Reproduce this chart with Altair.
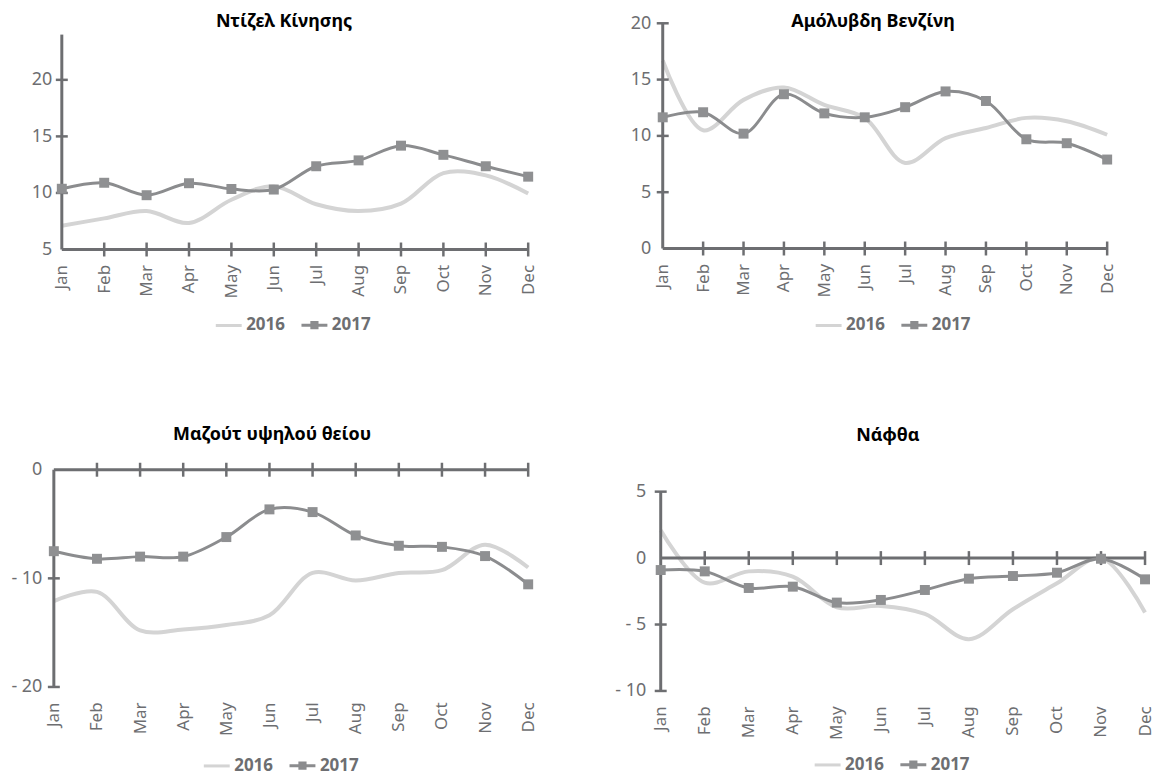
import json
import altair as alt
import pandas as pd

months = ["Jan", "Feb", "Mar", "Apr", "May", "Jun", "Jul", "Aug", "Sep", "Oct", "Nov", "Dec"]
years = ["2016", "2017"]
titles = ["Ντίζελ Κίνησης", "Αμόλυβδη Βενζίνη", "Μαζούτ υψηλού θείου", "Νάφθα"]

diesel_2016 = [7.1, 7.75, 8.4, 7.35, 9.4, 10.6, 9.0, 8.4, 9.05, 11.75, 11.55, 9.95]
diesel_2017 = [10.37, 10.9, 9.8, 10.86, 10.35, 10.3, 12.36, 12.88, 14.18, 13.37, 12.36, 11.44]
unleaded_2016 = [16.7, 10.5, 13.2, 14.3, 12.75, 11.6, 7.6, 9.8, 10.7, 11.6, 11.3, 10.1]
unleaded_2017 = [11.65, 12.1, 10.2, 13.7, 12.0, 11.65, 12.55, 13.95, 13.1, 9.7, 9.35, 7.9]
fueloil_2016 = [-12.1, -11.25, -14.8, -14.7, -14.3, -13.4, -9.5, -10.2, -9.5, -9.25, -6.9, -9.0]
fueloil_2017 = [-7.5, -8.2, -8.0, -8.0, -6.2, -3.65, -3.9, -6.05, -7.0, -7.1, -7.95, -10.55]
naphtha_2016 = [2.1, -1.85, -1.0, -1.4, -3.7, -3.6, -4.2, -6.1, -3.85, -1.9, 0.0, -4.1]
naphtha_2017 = [-0.9, -1.0, -2.25, -2.15, -3.35, -3.15, -2.4, -1.55, -1.35, -1.1, -0.05, -1.6]

AXIS = "#6d6e71"
LABEL = "#6d6e71"
C16 = "#d4d4d4"
C17 = "#8b8c8e"
C17P = "#8f9092"
FONT = "Noto Sans"

PATH16 = "M-1,0H1"
PATH17 = "M-1,0H1M-0.2,-0.2H0.2V0.2H-0.2Z"

panels = [
    dict(title=titles[0], s16=diesel_2016, s17=diesel_2017, ydom=[5, 25], yvals=[5, 10, 15, 20],
         base=5, ylo=5, yhi=24, xmin=-0.188, w=476, h=227, lpad=2, lx=161, ly=288, tdx=-7, tdy=17),
    dict(title=titles[1], s16=unleaded_2016, s17=unleaded_2017, ydom=[0, 20], yvals=[0, 5, 10, 15, 20],
         base=0, ylo=0, yhi=20, xmin=-0.099, w=450, h=226, lpad=8, lx=156, ly=288, tdx=-10, tdy=26),
    dict(title=titles[2], s16=fueloil_2016, s17=fueloil_2017, ydom=[-20, 0], yvals=[-20, -10, 0],
         base=0, ylo=-20, yhi=0, xmin=0, w=476, h=218, lpad=12, lx=149, ly=282, tdx=-19, tdy=-8),
    dict(title=titles[3], s16=naphtha_2016, s17=naphtha_2017, ydom=[-10, 6.65], yvals=[-10, -5, 0, 5],
         base=0, ylo=-10, yhi=5, xmin=-0.045, w=488, h=222, lpad=13, lx=155, ly=281, tdx=-14, tdy=-16),
]

month_expr = json.dumps(months) + "[round(datum.value)]"
ylab_expr = "datum.value < 0 ? '- ' + abs(datum.value) : '' + datum.value"


def make_panel(P):
    rows = []
    for yr, vals in ((years[0], P["s16"]), (years[1], P["s17"])):
        for k, v in enumerate(vals):
            rows.append({"x": k, "y": v, "year": yr})
    series = pd.DataFrame(rows)

    axes_df = pd.DataFrame([
        {"x": 0, "x2": 11, "y": P["base"], "y2": P["base"]},
        {"x": 0, "x2": 0, "y": P["ylo"], "y2": P["yhi"]},
    ])
    xticks_df = pd.DataFrame({"x": list(range(1, 12)), "y": [P["base"]] * 11})
    ytv = [v for v in P["yvals"] if v != P["base"]]
    yticks_df = pd.DataFrame({"x": [0] * len(ytv), "y": ytv})

    xaxis = alt.Axis(title=None, values=list(range(12)), labelExpr=month_expr, labelAngle=-90,
                     labelAlign="right", labelBaseline="middle", labelPadding=15,
                     domain=False, ticks=False, tickSize=0, grid=False, labelFlush=False,
                     labelOverlap=False, labelFont=FONT, labelFontSize=17, labelColor=LABEL)
    yaxis = alt.Axis(title=None, values=P["yvals"], labelExpr=ylab_expr, domain=False, ticks=False,
                     tickSize=0, grid=False, labelPadding=P["lpad"], labelFlush=False,
                     labelOverlap=False, labelFont=FONT, labelFontSize=18, labelColor=LABEL)
    xs = alt.Scale(domain=[P["xmin"], 11], nice=False, zero=False)
    ys = alt.Scale(domain=P["ydom"], nice=False, zero=False)
    X = alt.X("x:Q", scale=xs, axis=xaxis)
    Y = alt.Y("y:Q", scale=ys, axis=yaxis)

    line16 = alt.Chart(series).transform_filter(alt.datum.year == years[0]).mark_line(
        interpolate="catmull-rom", color=C16, strokeWidth=4).encode(x=X, y=Y)
    rules = alt.Chart(axes_df).mark_rule(color=AXIS, strokeWidth=3).encode(
        x=X, x2="x2:Q", y=Y, y2="y2:Q")
    xticks = alt.Chart(xticks_df).mark_tick(orient="vertical", size=14, thickness=2.5,
                                             color=AXIS, opacity=1).encode(x=X, y=Y)
    yticks = alt.Chart(yticks_df).mark_tick(orient="horizontal", size=12, thickness=2.5,
                                             color=AXIS, opacity=1).encode(x=X, y=Y)
    s17 = alt.Chart(series).transform_filter(alt.datum.year == years[1])
    line17 = s17.mark_line(interpolate="catmull-rom", color=C17, strokeWidth=3).encode(x=X, y=Y)
    pts17 = s17.mark_square(size=100, color=C17P, opacity=1).encode(x=X, y=Y)

    leg = alt.Legend(title=None, orient="none", legendX=P["lx"], legendY=P["ly"],
                     direction="horizontal", symbolSize=676, symbolStrokeWidth=3,
                     labelFont=FONT, labelFontSize=17, labelFontWeight="bold",
                     labelColor=LABEL, labelOffset=3, columnPadding=10)
    legend_layer = alt.Chart(series).transform_filter("false").mark_point(opacity=1, strokeWidth=3).encode(
        fill=alt.Fill("year:N", scale=alt.Scale(domain=years, range=[C16, C17P]), legend=leg),
        stroke=alt.Stroke("year:N", scale=alt.Scale(domain=years, range=[C16, C17]), legend=leg),
        shape=alt.Shape("year:N", scale=alt.Scale(domain=years, range=[PATH16, PATH17]), legend=leg),
    )

    title = alt.TitleParams(text=P["title"], anchor="middle", frame="group", offset=0,
                            baseline="middle", dx=P["tdx"], dy=P["tdy"], font=FONT,
                            fontSize=18, fontWeight="bold", color="#000000")
    return alt.layer(line16, rules, xticks, yticks, line17, pts17, legend_layer).properties(
        width=P["w"], height=P["h"], title=title)


charts = [make_panel(P) for P in panels]

chart = alt.concat(*charts, columns=2, spacing={"row": 221, "column": 131},
                   bounds="flush", align="none").resolve_scale(
    fill="independent", stroke="independent", shape="independent").resolve_legend(
    fill="independent", stroke="independent", shape="independent").configure_view(
    stroke=None).properties(padding={"left": 2, "top": 4, "right": 0, "bottom": 0})

chart.save("out.html", embed_options={"renderer": "svg", "actions": False})
